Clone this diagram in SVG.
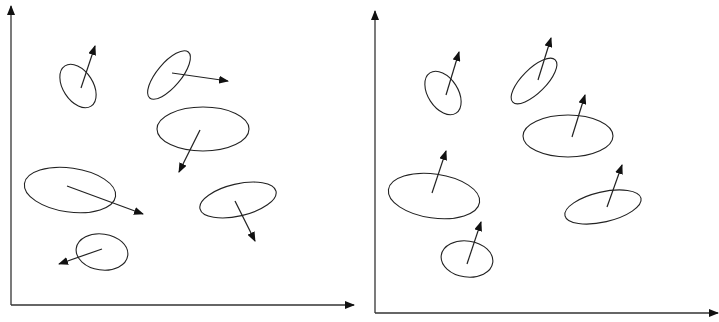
<svg xmlns="http://www.w3.org/2000/svg" width="719" height="322" viewBox="0 0 719 322">
<defs>
<marker id="ah" markerWidth="10" markerHeight="8" refX="9" refY="4" orient="auto" markerUnits="userSpaceOnUse">
<path d="M0,0 L10,4 L0,8 Z" fill="#111"/>
</marker>
</defs>
<style>
.e{fill:none;stroke:#222;stroke-width:1.1}
.v{fill:none;stroke:#222;stroke-width:1.2;marker-end:url(#ah)}
.ax{fill:none;stroke:#333;stroke-width:1.3;marker-end:url(#ah)}
</style>
<rect width="719" height="322" fill="#fff"/>
<g id="left-panel">
<g id="l-axes" class="connectors">
<path class="ax" d="M11,305 L11,6"/>
<path class="ax" d="M11,305 L354,305"/>
</g>
<g id="l1"><ellipse class="e" cx="78" cy="86" rx="24" ry="15" transform="rotate(57 78 86)"/></g>
<g id="l2"><ellipse class="e" cx="169" cy="75" rx="30" ry="12" transform="rotate(-50 169 75)"/></g>
<g id="l3"><ellipse class="e" cx="203" cy="129" rx="46" ry="22"/></g>
<g id="l4"><ellipse class="e" cx="70" cy="190" rx="46" ry="22" transform="rotate(8 70 190)"/></g>
<g id="l5"><ellipse class="e" cx="238" cy="200" rx="39" ry="16" transform="rotate(-13 238 200)"/></g>
<g id="l6"><ellipse class="e" cx="102" cy="252" rx="26" ry="18" transform="rotate(8 102 252)"/></g>
<g id="l-vectors" class="connectors">
<path class="v" d="M81,88 L95,46"/>
<path class="v" d="M172,73 L228,81"/>
<path class="v" d="M200,130 L179,172"/>
<path class="v" d="M67,186 L143,214"/>
<path class="v" d="M235,201 L255,241"/>
<path class="v" d="M102,249 L59,264"/>
</g>
</g>
<g id="right-panel">
<g id="r-axes" class="connectors">
<path class="ax" d="M375,313 L375,11"/>
<path class="ax" d="M375,313 L718,313"/>
</g>
<g id="r1"><ellipse class="e" cx="443" cy="93" rx="24" ry="15" transform="rotate(57 443 93)"/></g>
<g id="r2"><ellipse class="e" cx="534" cy="81" rx="30" ry="12" transform="rotate(-45 534 81)"/></g>
<g id="r3"><ellipse class="e" cx="568" cy="136" rx="45" ry="21"/></g>
<g id="r4"><ellipse class="e" cx="434" cy="196" rx="46" ry="22" transform="rotate(8 434 196)"/></g>
<g id="r5"><ellipse class="e" cx="603" cy="207" rx="39" ry="15" transform="rotate(-13 603 207)"/></g>
<g id="r6"><ellipse class="e" cx="467" cy="259" rx="26" ry="18" transform="rotate(8 467 259)"/></g>
<g id="r-vectors" class="connectors">
<path class="v" d="M446,95 L459,52"/>
<path class="v" d="M538,80 L551,38"/>
<path class="v" d="M572,137 L585,95"/>
<path class="v" d="M432,193 L446,151"/>
<path class="v" d="M607,207 L622,165"/>
<path class="v" d="M467,264 L481,222"/>
</g>
</g>
</svg>
